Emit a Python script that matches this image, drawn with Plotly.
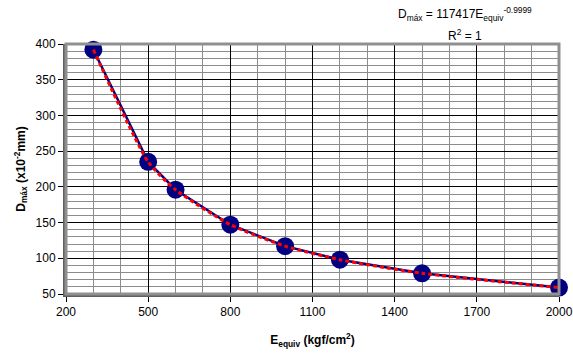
import plotly.graph_objects as go

E_equiv = [300, 500, 600, 800, 1000, 1200, 1500, 2000]
D_max = [392, 235, 196, 147, 117, 98, 79, 59]

x_ticks = [200, 500, 800, 1100, 1400, 1700, 2000]
y_ticks = [50, 100, 150, 200, 250, 300, 350, 400]

font = "Liberation Sans, Arial, sans-serif"

fig = go.Figure()
fig.add_trace(go.Scatter(
    x=E_equiv, y=D_max, mode="lines+markers",
    line=dict(color="#000080", width=2.5),
    marker=dict(color="#000080", size=18),
    cliponaxis=False,
    showlegend=False, hoverinfo="skip"))
fig.add_trace(go.Scatter(
    x=E_equiv, y=D_max, mode="lines",
    line=dict(color="#ff0000", width=3, dash="4px,3px", shape="spline", smoothing=0.6),
    cliponaxis=False,
    showlegend=False, hoverinfo="skip"))

fig.update_layout(
    width=573, height=356,
    margin=dict(l=66, r=14, t=44, b=62, autoexpand=False),
    paper_bgcolor="white", plot_bgcolor="white",
    font=dict(family=font, size=12, color="black"),
    xaxis=dict(
        range=[200, 2000], tickvals=x_ticks, ticktext=[str(v) for v in x_ticks],
        automargin=False,
        showgrid=True, gridcolor="black", gridwidth=1,
        minor=dict(dtick=100, tick0=200, showgrid=True, gridcolor="#8c8c8c", gridwidth=1),
        ticks="outside", ticklen=5, tickcolor="black",
        showline=True, linecolor="#606060", linewidth=3, mirror=False,
        zeroline=False,
        title=dict(text="<b>E<sub>equiv</sub> (kgf/cm<sup>2</sup>)</b>", font=dict(size=12), standoff=18),
    ),
    yaxis=dict(
        range=[50, 400], tickvals=y_ticks, ticktext=[str(v) for v in y_ticks],
        automargin=False,
        showgrid=True, gridcolor="black", gridwidth=1,
        minor=dict(dtick=10, tick0=50, showgrid=True, gridcolor="#8c8c8c", gridwidth=1),
        ticks="outside", ticklen=5, tickcolor="black",
        showline=True, linecolor="#606060", linewidth=3, mirror=False,
        zeroline=False,
        title=dict(text="<b>D<sub>máx</sub> (x10<sup>-2</sup>mm)</b>", font=dict(size=12), standoff=8),
    ),
    shapes=[dict(type="rect", xref="paper", yref="paper", x0=0, y0=0, x1=1, y1=1,
                 line=dict(color="#909090", width=3), layer="above")],
    annotations=[
        dict(text="D<sub>máx</sub> = 117417E<sub>equiv</sub><sup>-0.9999</sup>",
             xref="paper", yref="paper", x=0.81, y=1.12, xanchor="center", yanchor="middle",
             showarrow=False, font=dict(size=12)),
        dict(text="R<sup>2</sup> = 1",
             xref="paper", yref="paper", x=0.81, y=1.035, xanchor="center", yanchor="middle",
             showarrow=False, font=dict(size=12)),
    ],
)

fig.write_html("out.html")
